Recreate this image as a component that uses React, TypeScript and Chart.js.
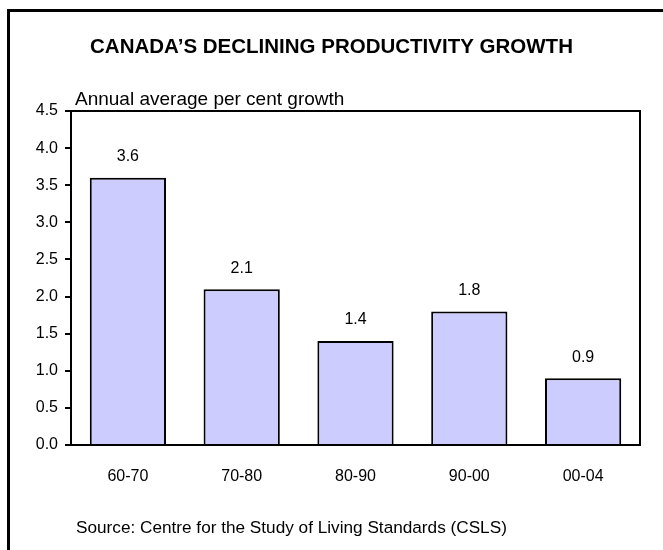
import React, { useEffect, useRef } from "react";
import { Chart, registerables } from "chart.js";

Chart.register(...registerables);

const categories = ["60-70", "70-80", "80-90", "90-00", "00-04"];
const growth = [3.6, 2.1, 1.4, 1.8, 0.9];
const yMin = 0;
const yMax = 4.5;
const yStep = 0.5;

const chartTitle = "CANADA\u2019S DECLINING PRODUCTIVITY GROWTH";
const unitLabel = "Annual average per cent growth";
const sourceNote = "Source: Centre for the Study of Living Standards (CSLS)";

const FONT = "Arial, 'Liberation Sans', Helvetica, sans-serif";

// Draws the plot box, the value labels, the heading, unit line and source note.
const decorations = {
  id: "decorations",
  afterDraw(chart: any) {
    const { ctx, chartArea } = chart;
    ctx.save();

    // plot frame
    ctx.strokeStyle = "#000";
    ctx.lineWidth = 2;
    ctx.strokeRect(
      chartArea.left,
      chartArea.top,
      chartArea.right - chartArea.left,
      chartArea.bottom - chartArea.top
    );

    // value labels above bars
    const meta = chart.getDatasetMeta(0);
    ctx.fillStyle = "#000";
    ctx.font = `16px ${FONT}`;
    ctx.textAlign = "center";
    ctx.textBaseline = "middle";
    meta.data.forEach((bar: any, i: number) => {
      ctx.fillText(growth[i].toFixed(1), bar.x, bar.y - 21);
    });

    // heading
    ctx.font = `bold 20.5px ${FONT}`;
    ctx.textBaseline = "middle";
    ctx.fillText(chartTitle, chart.width / 2, 47);

    // unit line
    ctx.font = `19px ${FONT}`;
    ctx.textAlign = "left";
    ctx.textBaseline = "alphabetic";
    ctx.fillText(unitLabel, chartArea.left + 4, chartArea.top - 6);

    // source note
    ctx.font = `17.2px ${FONT}`;
    ctx.fillText(sourceNote, 76, 533);

    ctx.restore();
  },
};

function ProductivityChart() {
  const canvasRef = useRef<HTMLCanvasElement | null>(null);

  useEffect(() => {
    if (!canvasRef.current) return;
    const chart = new Chart(canvasRef.current, {
      type: "bar",
      data: {
        labels: categories,
        datasets: [
          {
            data: growth,
            backgroundColor: "#CCCCFF",
            borderColor: "#000",
            borderWidth: 2,
            categoryPercentage: 1,
            barPercentage: 0.67,
          },
        ],
      },
      options: {
        animation: false,
        responsive: false,
        devicePixelRatio: 1,
        layout: { padding: { top: 111, right: 23, left: 0, bottom: 0 } },
        plugins: {
          legend: { display: false },
          tooltip: { enabled: false },
          title: { display: false },
        },
        scales: {
          x: {
            grid: { display: false },
            border: { display: false },
            ticks: {
              color: "#000",
              padding: 14,
              font: { family: FONT, size: 16 },
            },
            afterFit(scale: any) {
              scale.height = 105;
            },
          },
          y: {
            min: yMin,
            max: yMax,
            border: { display: false },
            grid: {
              drawOnChartArea: false,
              drawTicks: true,
              tickLength: 6,
              color: "#000",
              lineWidth: 2,
            },
            ticks: {
              stepSize: yStep,
              color: "#000",
              padding: 7,
              font: { family: FONT, size: 16 },
              callback: (v: any) => Number(v).toFixed(1),
            },
            afterFit(scale: any) {
              scale.width = 71;
            },
          },
        },
      },
      plugins: [decorations],
    });
    return () => chart.destroy();
  }, []);

  return (
    <div
      style={{
        position: "absolute",
        left: 0,
        top: 0,
        width: 663,
        height: 550,
        overflow: "hidden",
        background: "#fff",
      }}
    >
      <canvas
        ref={canvasRef}
        width={663}
        height={550}
        style={{ position: "absolute", left: 0, top: 0 }}
      />
      <div
        style={{
          position: "absolute",
          left: 7,
          top: 9,
          width: 700,
          height: 600,
          borderLeft: "3px solid #000",
          borderTop: "3px solid #000",
          pointerEvents: "none",
        }}
      />
    </div>
  );
}

export default function App() {
  return <ProductivityChart />;
}
